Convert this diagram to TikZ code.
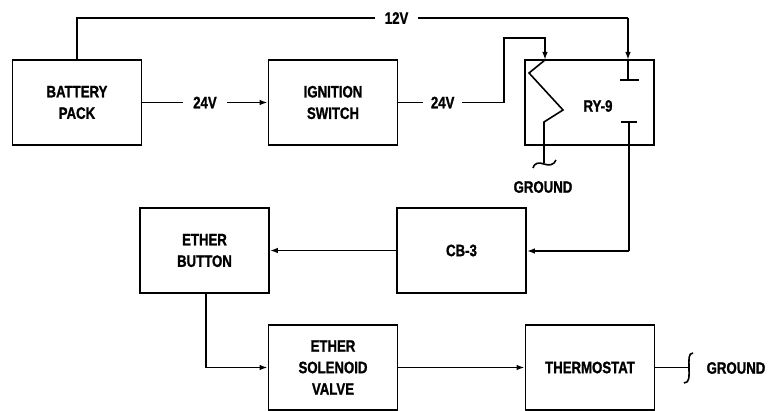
\documentclass[tikz,border=0pt]{standalone}
\usepackage{fontspec}
\newfontfamily\lblfont[FakeStretch=0.8,FakeBold=1.2]{Liberation Sans}
\usetikzlibrary{arrows.meta}
\tikzset{
  txt/.style={font=\lblfont\bfseries\fontsize{16.5}{21.5}\selectfont, align=center},
  box/.style={txt, draw, line width=1.6pt, minimum width=129pt, minimum height=85pt, inner sep=0pt},
  lbl/.style={txt, inner sep=0pt},
  wire/.style={line width=1.6pt},
  arr/.style={wire, -{Latex[length=8pt,width=5.5pt]}},
}
\begin{document}
\begin{tikzpicture}[x=1pt,y=-1pt]
\useasboundingbox (0,0) rectangle (768,411);
% boxes
\node[box] (bat) at (77,102.5) {BATTERY\\PACK};
\node[box] (ign) at (333,102.5) {IGNITION\\SWITCH};
\node[box] (ry) at (589.5,102.5) {};
\node[lbl] (rylbl) at (598,106) {RY-9};
\node[box] (eth) at (204.5,250.5) {ETHER\\BUTTON};
\node[box] (cb) at (461.5,250.5) {CB-3};
\node[box] (esv) at (333,367.5) {ETHER\\SOLENOID\\VALVE};
\node[box] (thm) at (590,367.5) {THERMOSTAT};
% coordinates
\coordinate (b12) at (77,18);
\coordinate (r12) at (628,18);
\coordinate (c1top) at (628,60);
\coordinate (c1) at (628,80);
\coordinate (c1l) at (620,80);
\coordinate (c1r) at (639,80);
\coordinate (c2l) at (621,122);
\coordinate (c2r) at (637,122);
\coordinate (c2) at (629,122);
\coordinate (c2d) at (629,251);
\coordinate (k1) at (504,102.5);
\coordinate (k2) at (504,38);
\coordinate (k3) at (545,38);
\coordinate (coiltop) at (545,60);
\coordinate (g1) at (544,163);
\coordinate (e1) at (206,367.5);
\coordinate (tg) at (688,367.5);
% 12V
\draw[wire] (bat.north -| b12) -- (b12) -- node[lbl, fill=white, inner xsep=10pt, pos=0.58] (v12) {12V} (r12);
\draw[arr] (r12) -- (c1top);
\draw[wire] (c1top) -- (c1);
\draw[wire] (c1l) -- (c1r);
\draw[wire] (c2l) -- (c2r);
% 24V battery -> ignition
\draw[arr] (bat) -- node[lbl, fill=white, inner xsep=10pt, pos=0.5] (v24a) {24V} (ign);
% 24V ignition -> relay coil
\draw[arr] (ign.east) -- node[lbl, fill=white, inner xsep=8pt, pos=0.42] (v24b) {24V} (k1) -- (k2) -- (k3) -- (coiltop);
% coil zigzag
\draw[wire, line join=miter] (coiltop) -- (529,73) -- (563,110) -- (544,122) -- (g1);
\draw[wire] (533,168) .. controls (534,163) and (539,162) .. (544,164) .. controls (549,166) and (554,165) .. (556,160);
\node[lbl] (gnd1) at (543,187) {GROUND};
% contact to CB-3
\draw[wire] (c2) -- (c2d);
\draw[arr] (c2d) -- (cb.east |- c2d);
% CB-3 -> Ether button
\draw[arr] (cb) -- (eth);
% Ether button -> ESV
\draw[arr] (eth.south -| e1) -- (e1) -- (esv.west);
% ESV -> thermostat
\draw[arr] (esv) -- (thm);
% thermostat -> ground
\draw[wire] (thm.east) -- (tg);
\draw[wire] (693,353) .. controls (688,353) and (689,360) .. (689,367.5) .. controls (689,376) and (690,383) .. (684,383);
\node[lbl] (gnd2) at (736,368) {GROUND};
\end{tikzpicture}
\end{document}
